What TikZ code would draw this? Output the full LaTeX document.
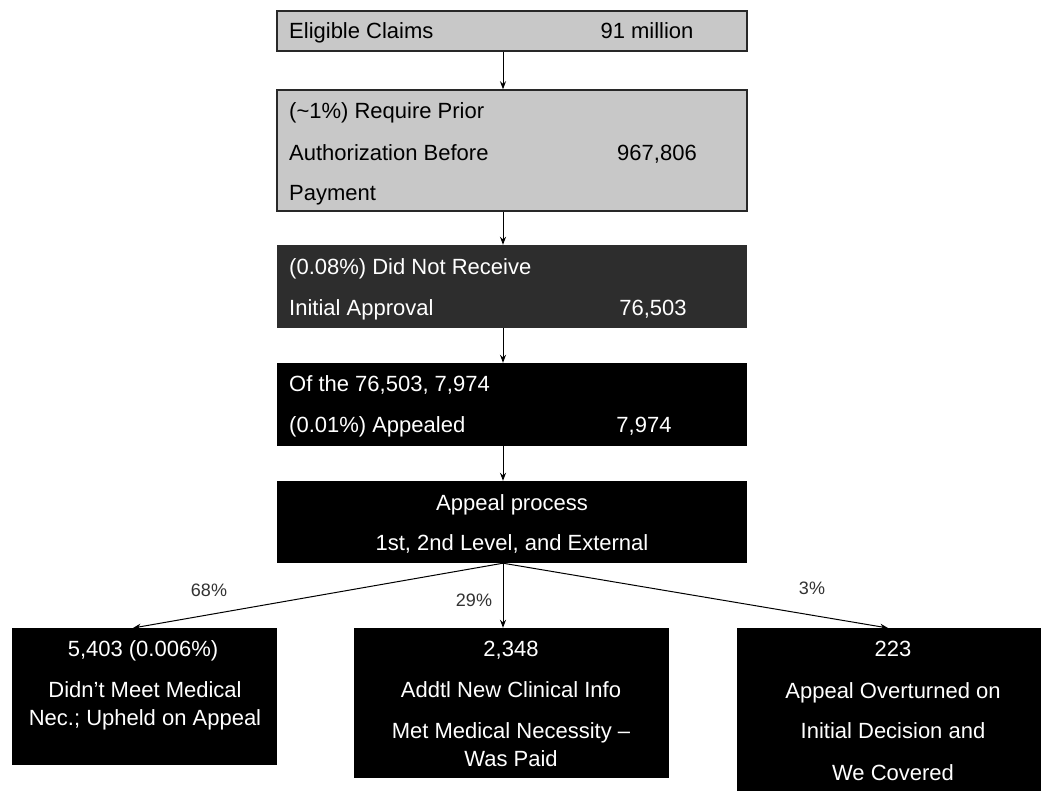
\documentclass[tikz,border=0pt]{standalone}
\usepackage{fontspec}
\setmainfont{Liberation Sans}
\usetikzlibrary{arrows.meta}
\definecolor{boxgray}{RGB}{200,200,200}
\definecolor{boxedge}{RGB}{40,40,40}
\definecolor{darkbox}{RGB}{45,45,45}
\definecolor{pctgray}{RGB}{50,50,50}
\begin{document}
\begin{tikzpicture}[x=1pt,y=-1pt,
  graybox/.style={draw=boxedge,line width=1.5pt,fill=boxgray,rectangle,minimum width=470pt,inner sep=0pt},
  blackbox/.style={draw=none,fill=black,rectangle,inner sep=0pt},
  dgbox/.style={draw=none,fill=darkbox,rectangle,inner sep=0pt},
  lt/.style={font=\fontsize{22}{26}\selectfont,inner sep=0pt,text=black,anchor=base west},
  lc/.style={font=\fontsize{22}{26}\selectfont,inner sep=0pt,text=black,anchor=base},
  wt/.style={font=\fontsize{22}{26}\selectfont,inner sep=0pt,text=white,anchor=base},
  wl/.style={font=\fontsize{22}{26}\selectfont,inner sep=0pt,text=white,anchor=base west},
  pct/.style={font=\fontsize{18}{20}\selectfont,inner sep=0pt,text=pctgray,anchor=base},
  arr/.style={draw=black,line width=1pt,-{Stealth[length=8pt,width=6pt]}}
]
\useasboundingbox (0,0) rectangle (1042,792);
\fill[white] (0,0) rectangle (1042,792);
% boxes
\node[graybox,minimum height=40pt] (b1) at (512,31) {};
\node[graybox,minimum height=121pt] (b2) at (512,150.5) {};
\node[dgbox,minimum width=470pt,minimum height=83pt] (b3) at (512,286.5) {};
\node[blackbox,minimum width=470pt,minimum height=83pt] (b4) at (512,404.5) {};
\node[blackbox,minimum width=470pt,minimum height=82pt] (b5) at (512,522) {};
\node[blackbox,minimum width=265pt,minimum height=137pt] (bl) at (144.5,696.5) {};
\node[blackbox,minimum width=315pt,minimum height=150pt] (bm) at (511.5,703) {};
\node[blackbox,minimum width=304pt,minimum height=163pt] (br) at (888.5,709.5) {};
% texts (baselines)
\node[lt] (t1a) at (289,39) {Eligible Claims};
\node[lc] (t1b) at (647,39) {91 million};
\node[lt] (t2a) at (289,118) {(\textasciitilde1\%) Require Prior};
\node[lt] (t2b) at (289,160) {Authorization Before};
\node[lt] (t2c) at (289,200) {Payment};
\node[lc] (t2d) at (657,160) {967,806};
\node[wl] (t3a) at (289,274) {(0.08\%) Did Not Receive};
\node[wl] (t3b) at (289,315) {Initial Approval};
\node[wt] (t3c) at (653,315) {76,503};
\node[wl] (t4a) at (289,391) {Of the 76,503, 7,974};
\node[wl] (t4b) at (289,432) {(0.01\%) Appealed};
\node[wt] (t4c) at (644,432) {7,974};
\node[wt] (t5a) at (512,510) {Appeal process};
\node[wt] (t5b) at (512,550) {1st, 2nd Level, and External};
\node[wt] (tla) at (143,656) {5,403 (0.006\%)};
\node[wt] (tlb) at (145,697) {Didn’t Meet Medical};
\node[wt] (tlc) at (145,725) {Nec.; Upheld on Appeal};
\node[wt] (tma) at (511,656) {2,348};
\node[wt] (tmb) at (511,697) {Addtl New Clinical Info};
\node[wt] (tmc) at (511,738) {Met Medical Necessity –};
\node[wt] (tmd) at (511,766) {Was Paid};
\node[wt] (tra) at (893,656) {223};
\node[wt] (trb) at (893,698) {Appeal Overturned on};
\node[wt] (trc) at (893,738) {Initial Decision and};
\node[wt] (trd) at (893,780) {We Covered};
% percentages
\node[pct] (p68) at (209,596) {68\%};
\node[pct] (p29) at (474,606) {29\%};
\node[pct] (p3) at (812,594) {3\%};
% connectors
\coordinate (ax) at (503,0);
\coordinate (el) at (133,628);
\coordinate (er) at (888,628);
\draw[arr] (b1.south -| ax) -- (b2.north -| ax);
\draw[arr] (b2.south -| ax) -- (b3.north -| ax);
\draw[arr] (b3.south -| ax) -- (b4.north -| ax);
\draw[arr] (b4.south -| ax) -- (b5.north -| ax);
\draw[arr] (b5.south -| ax) -- (el);
\draw[arr] (b5.south -| ax) -- (bm.north -| ax);
\draw[arr] (b5.south -| ax) -- (er);
\end{tikzpicture}
\end{document}
